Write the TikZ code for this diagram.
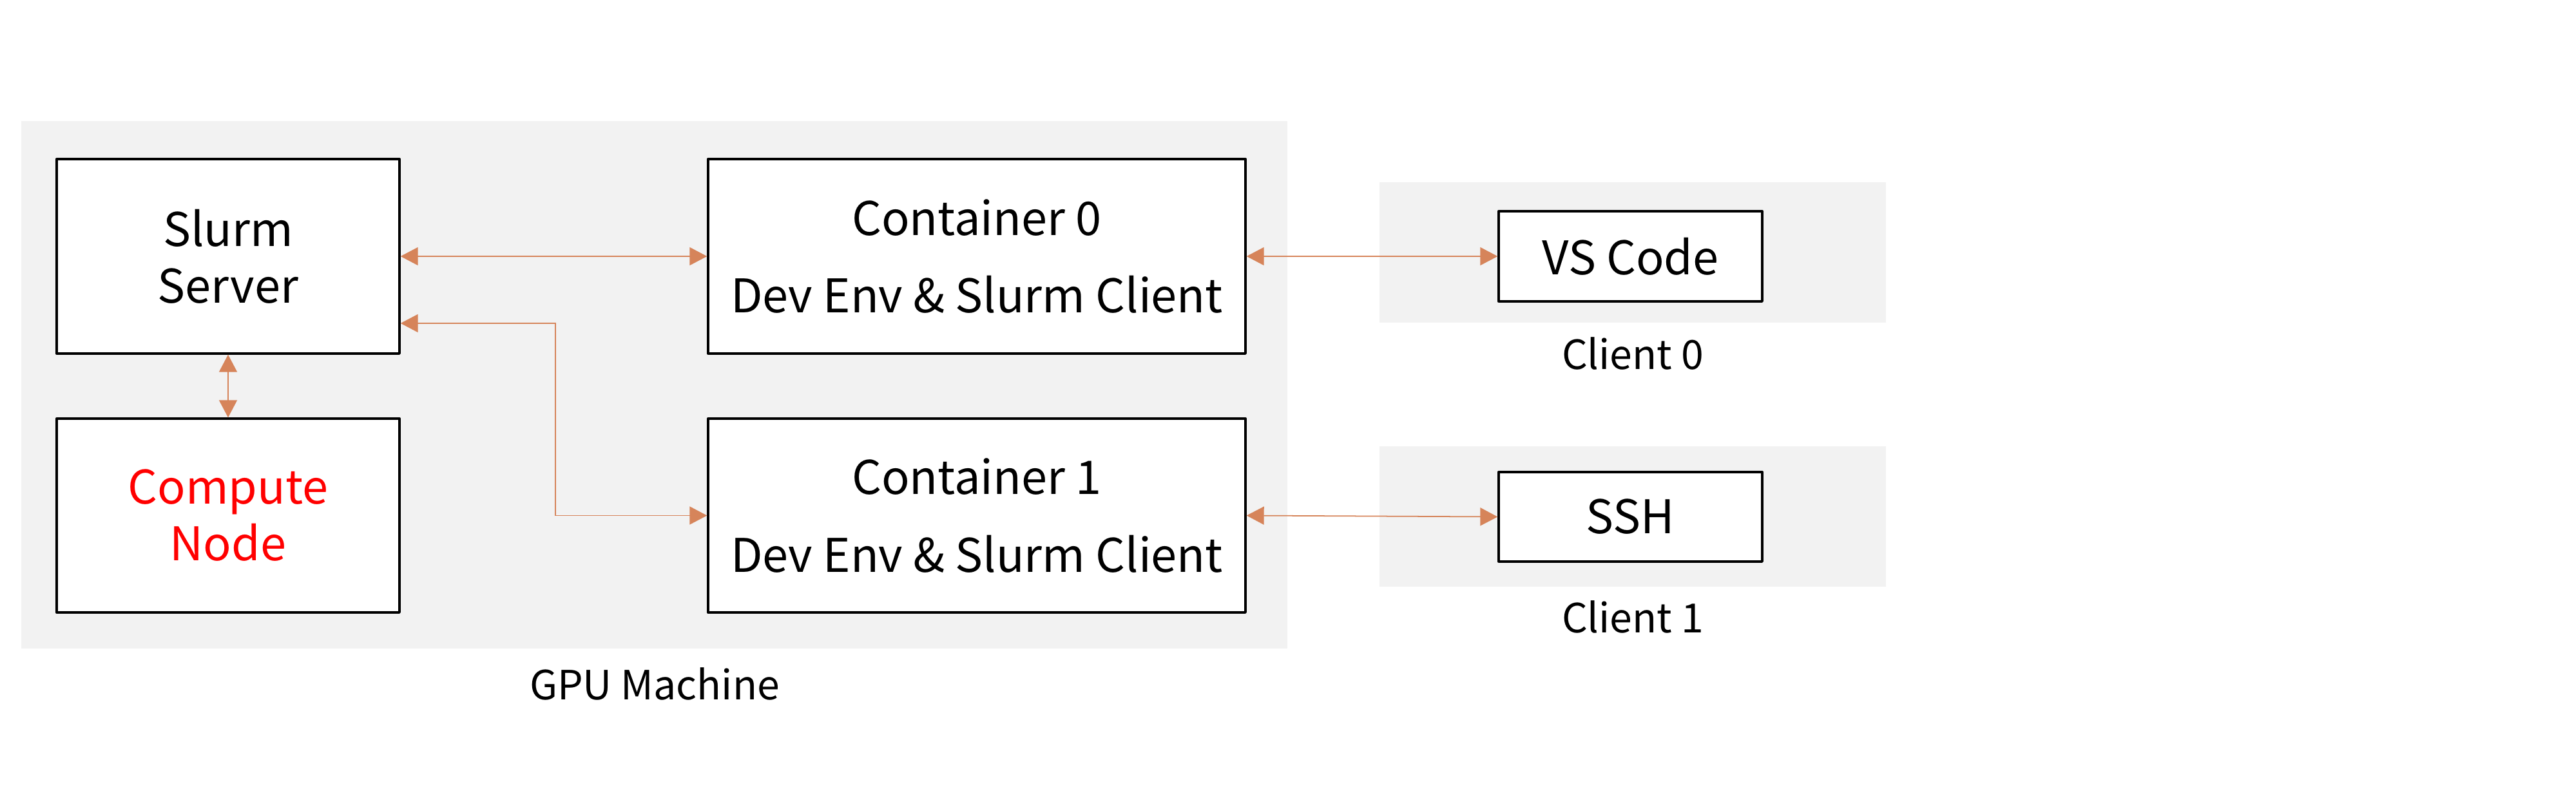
\documentclass[tikz,border=0pt]{standalone}
\usepackage{fontspec}
\setmainfont{Noto Sans CJK KR}
\usetikzlibrary{arrows.meta}
\definecolor{bgray}{RGB}{242,242,242}
\definecolor{arrowc}{RGB}{214,132,90}
\definecolor{rred}{RGB}{255,0,0}
\begin{document}
\begin{tikzpicture}[
  box/.style={draw=black, line width=0.95pt, fill=white, line join=round, align=center, inner sep=0pt,
    font=\fontsize{20.5}{25}\selectfont},
  widebox/.style={box, font=\fontsize{20.5}{34.4}\selectfont},
  panel/.style={fill=bgray, draw=none},
  lbl/.style={anchor=base, inner sep=0pt, font=\fontsize{17.8}{21}\selectfont},
  arr/.style={draw=arrowc, line width=0.5pt, {Triangle[length=0.27cm,width=0.28cm]}-{Triangle[length=0.27cm,width=0.28cm]}}
]
\useasboundingbox (0,0) rectangle (39.98,-12.5);
% panels
\fill[panel] (0.33,-1.88) rectangle (19.98,-10.07);
\fill[panel] (21.41,-2.83) rectangle (29.27,-5.01);
\fill[panel] (21.41,-6.93) rectangle (29.27,-9.11);
% boxes
\node[box, minimum width=5.32cm, minimum height=3.02cm] (slurm) at (3.54,-3.98) {Slurm\\Server};
\node[box, minimum width=5.32cm, minimum height=3.01cm, text=rred] (compute) at (3.54,-8.005) {Compute\\Node};
\node[widebox, minimum width=8.34cm, minimum height=3.02cm] (c0) at (15.16,-3.98)
  {Container 0\\Dev Env \& Slurm Client};
\node[widebox, minimum width=8.34cm, minimum height=3.01cm] (c1) at (15.16,-8.005)
  {Container 1\\Dev Env \& Slurm Client};
\node[box, minimum width=4.09cm, minimum height=1.40cm] (vs) at (25.305,-3.98) {VS Code};
\node[box, minimum width=4.09cm, minimum height=1.39cm] (ssh) at (25.305,-8.025) {SSH};
% labels
\node[lbl] (gpulbl) at (10.16,-10.86) {GPU Machine};
\node[lbl] (cl0) at (25.34,-5.73) {Client 0};
\node[lbl] (cl1) at (25.34,-9.82) {Client 1};
% connectors
\draw[arr] (slurm.east) -- (c0.west);
\draw[arr] ([yshift=-1.04cm]slurm.east) -- ++(2.4,0) |- (c1.west);
\draw[arr] (slurm.south) -- (compute.north);
\draw[arr] (c0.east) -- (vs.west);
\draw[arr] (c1.east) -- (ssh.west);
\end{tikzpicture}
\end{document}
